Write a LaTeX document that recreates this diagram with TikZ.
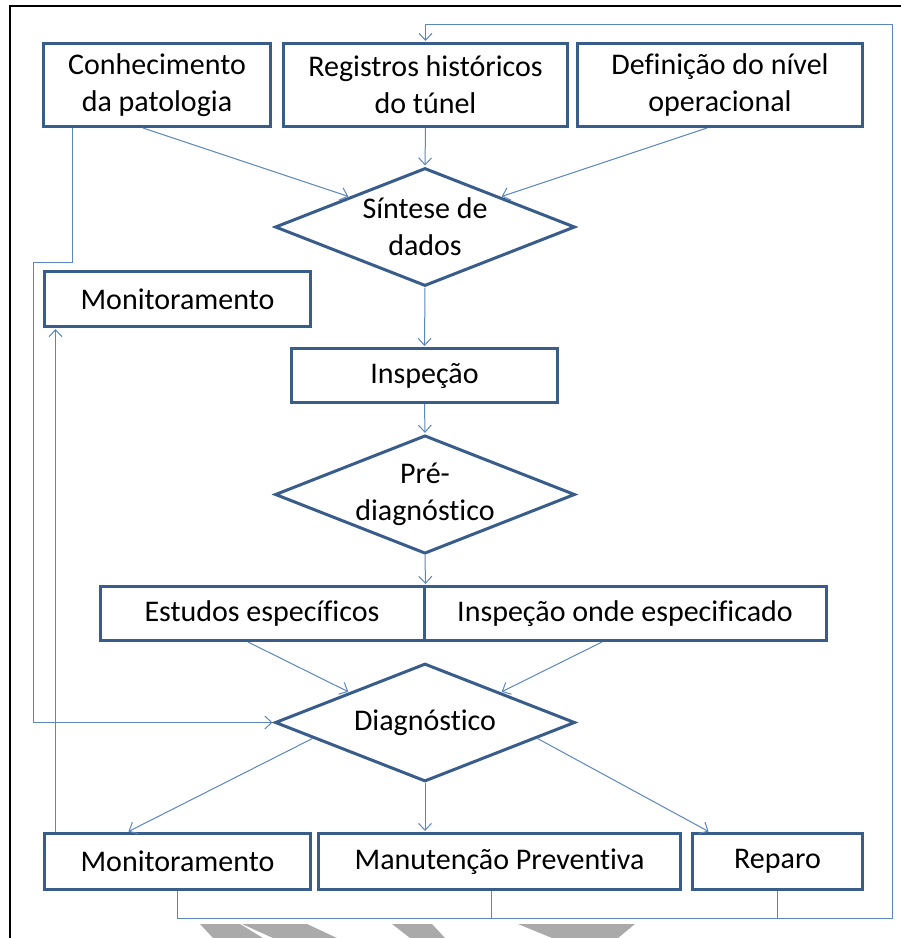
\documentclass[tikz,border=0pt]{standalone}
\usepackage{fontspec}
\setmainfont{Carlito}[Ligatures=NoCommon, RawFeature={-clig;-calt}]
\usetikzlibrary{positioning,arrows.meta,shapes.geometric}
\definecolor{boxblue}{RGB}{56,93,138}
\definecolor{lineblue}{RGB}{92,134,190}
\definecolor{chevgray}{RGB}{170,170,170}
\tikzset{
  etapa/.style={rectangle, draw=boxblue, line width=3pt, fill=white, inner sep=0pt,
                align=center, font=\fontsize{30}{37}\selectfont},
  decisao/.style={diamond, aspect=2.5, draw=boxblue, line width=3pt, fill=white, inner sep=0pt,
                  minimum width=300pt, minimum height=118pt, align=center,
                  font=\fontsize{30}{37}\selectfont},
  fluxo/.style={-{Straight Barb[length=7pt,width=13pt]}, draw=lineblue, line width=1pt, shorten >=1pt},
  liga/.style={draw=lineblue, line width=1pt}
}

\begin{document}
\begin{tikzpicture}[x=1pt, y=-1pt]
    \useasboundingbox (0,0) rectangle (901,938);
    \draw[line width=2.5pt] (10,938) -- (10,6) -- (901,6);
    % top row
    \node[etapa, minimum width=227pt, minimum height=83pt] (con) at (157,85) {Conhecimento\\da patologia};
    \node[etapa, minimum width=284pt, minimum height=83pt] (reg) at (425.5,85) {Registros históricos\\do túnel};
    \node[etapa, minimum width=285pt, minimum height=83pt] (def) at (720,85) {Definição do nível\\operacional};
    \node[decisao] (sin) at (425,227) {Síntese de\\dados};
    \node[etapa, minimum width=266pt, minimum height=55pt] (mon) at (177.5,299) {Monitoramento};
    \node[etapa, minimum width=266pt, minimum height=54pt] (insp) at (424.5,375.5) {Inspeção};
    \node[decisao] (pre) at (425,494.5) {Pré-\\diagnóstico};
    \node[etapa, minimum width=324pt, minimum height=54pt] (est) at (262,613.5) {Estudos específicos};
    \node[etapa, minimum width=402pt, minimum height=54pt] (ond) at (625,613.5) {Inspeção onde especificado};
    \node[decisao] (diag) at (425,722.5) {Diagnóstico};
    % bottom row
    \node[etapa, minimum width=266pt, minimum height=56pt] (monb) at (177.5,861.5) {Monitoramento};
    \node[etapa, minimum width=362pt, minimum height=56pt] (man) at (499.5,861.5) {Manutenção Preventiva};
    \node[etapa, minimum width=170pt, minimum height=56pt] (rep) at (777.5,861.5) {Reparo};
    \coordinate (retSE) at (892,918);
    \coordinate (retNE) at (892,24);
    \coordinate (volta) at (33,262);

    \draw[fluxo] ([xshift=-14pt]con.south) -- (sin.north west);
    \draw[fluxo] (reg.south) -- (sin.north);
    \draw[fluxo] ([xshift=-13pt]def.south) -- (sin.north east);
    \draw[fluxo] (sin.south) -- (insp.north);
    \draw[fluxo] (insp.south) -- (pre.north);
    \draw[fluxo] (pre.south) -- (est.north east);
    \draw[fluxo] ([xshift=-14pt]est.south) -- (diag.north west);
    \draw[fluxo] ([xshift=-23pt]ond.south) -- (diag.north east);
    \draw[fluxo] (diag.188) -- ([xshift=-50pt]monb.north);
    \draw[fluxo] (diag.south) -- (diag.south |- man.north);
    \draw[fluxo] (diag.-8) -- ([xshift=-68pt]rep.north);
    \draw[fluxo] ([xshift=-122pt]monb.north) -- ([xshift=-122pt]mon.south);
    \draw[fluxo] ([xshift=-85pt]con.south) |- (volta) |- (diag.west);
    \draw[fluxo] (monb.south) |- (retSE) -- (retNE) -| (reg.north);
    \draw[liga] ([xshift=-8pt]man.south) -- ([xshift=-8pt]man.south |- retSE);
    \draw[liga] (rep.south) -- (rep.south |- retSE);

    % cut-off chevrons at the foot
    \fill[chevgray] (200,924) -- (240,924) -- (263,938) -- (213,938) -- cycle;
    \fill[chevgray] (242,924) -- (307,924) -- (337,938) -- (273,938) -- cycle;
    \fill[chevgray] (392,924) -- (432,924) -- (445,938) -- (410,938) -- cycle;
    \fill[chevgray] (518,924) -- (635,924) -- (618,938) -- (552,938) -- cycle;
\end{tikzpicture}
\end{document}
